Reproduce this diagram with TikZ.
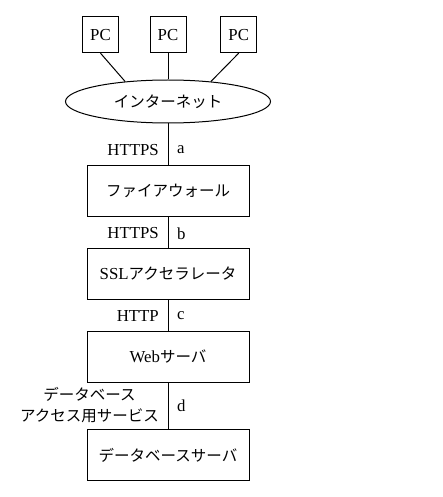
\documentclass[tikz,border=0pt]{standalone}
\usepackage{fontspec}
\setmainfont{Liberation Serif}
\newfontfamily\jp{Noto Sans CJK JP}
\newcommand\Jtxt[1]{{\jp\fontsize{15.5}{21}\selectfont #1}}
\usetikzlibrary{shapes.geometric}
\begin{document}
\begin{tikzpicture}[x=1pt,y=-1pt,line width=1pt,
  every node/.style={font=\fontsize{16.8}{21}\selectfont},
  box/.style={draw,minimum width=162pt,minimum height=51pt,inner sep=0pt},
  pcbox/.style={draw,minimum width=36pt,minimum height=36pt,inner sep=0pt},
  lbl/.style={inner sep=0pt}]
\useasboundingbox (0,0) rectangle (443,497);
\node[pcbox] (pc1) at (100.5,34.7) {PC};
\node[pcbox] (pc2) at (168,34.7) {PC};
\node[pcbox] (pc3) at (238.7,34.7) {PC};
\node[draw,ellipse,minimum width=205pt,minimum height=43pt,inner sep=0pt] (net) at (168,101.5) {\Jtxt{インターネット}};
\node[box] (fw) at (168,190.5) {\Jtxt{ファイアウォール}};
\node[box] (ssl) at (168,274) {SSL\Jtxt{アクセラレータ}};
\node[box] (web) at (168,356.5) {Web\Jtxt{サーバ}};
\node[box] (db) at (168,455) {\Jtxt{データベースサーバ}};
\draw (pc1.south) -- (net.155);
\draw (pc2.south) -- (net.north);
\draw (pc3.south) -- (net.25);
\draw (net.south) -- (fw.north);
\draw (fw.south) -- (ssl.north);
\draw (ssl.south) -- (web.north);
\draw (web.south) -- (db.north);
\node[lbl,anchor=east] (la1) at (159.3,150) {HTTPS};
\node[lbl,anchor=west] (la2) at (176.5,150) {a};
\node[lbl,anchor=east] (lb1) at (159.3,233.3) {HTTPS};
\node[lbl,anchor=west] (lb2) at (176.5,233.3) {b};
\node[lbl,anchor=east] (lc1) at (159.3,316) {HTTP};
\node[lbl,anchor=west] (lc2) at (176.5,316) {c};
\node[lbl,anchor=east,align=center,font=\jp\fontsize{15.5}{21}\selectfont] (ld1) at (159.3,405) {データベース\\アクセス用サービス};
\node[lbl,anchor=west] (ld2) at (176.5,406) {d};
\end{tikzpicture}
\end{document}
